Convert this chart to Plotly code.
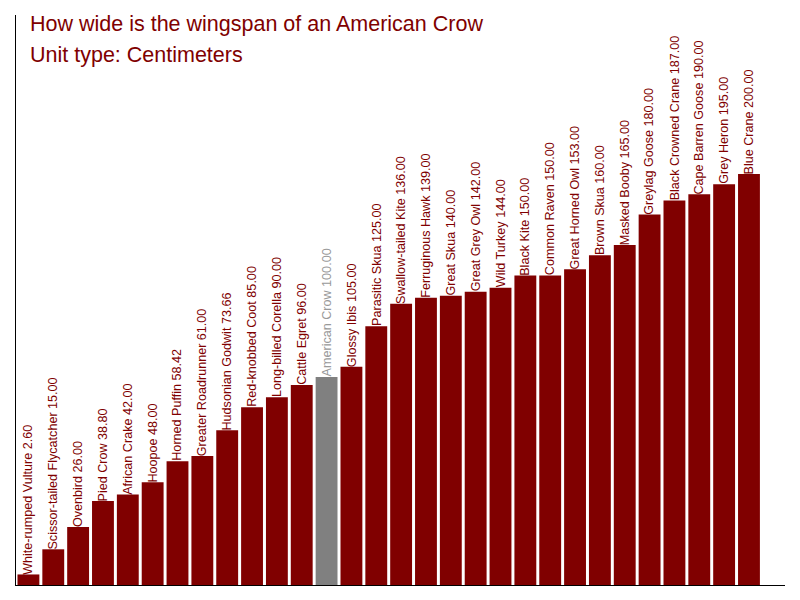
# Wingspan bar chart, American Crow highlighted

import plotly.graph_objects as go

# Data
birds = [
    "White-rumped Vulture", "Scissor-tailed Flycatcher", "Ovenbird", "Pied Crow",
    "African Crake", "Hoopoe", "Horned Puffin", "Greater Roadrunner",
    "Hudsonian Godwit", "Red-knobbed Coot", "Long-billed Corella", "Cattle Egret",
    "American Crow", "Glossy Ibis", "Parasitic Skua", "Swallow-tailed Kite",
    "Ferruginous Hawk", "Great Skua", "Great Grey Owl", "Wild Turkey",
    "Black Kite", "Common Raven", "Great Horned Owl", "Brown Skua",
    "Masked Booby", "Greylag Goose", "Black Crowned Crane", "Cape Barren Goose",
    "Grey Heron", "Blue Crane",
]
wingspans = [
    2.60, 15.00, 26.00, 38.80, 42.00, 48.00, 58.42, 61.00,
    73.66, 85.00, 90.00, 96.00, 100.00, 105.00, 125.00, 136.00,
    139.00, 140.00, 142.00, 144.00, 150.00, 150.00, 153.00, 160.00,
    165.00, 180.00, 187.00, 190.00, 195.00, 200.00,
]
highlight = "American Crow"

title_text = "How wide is the wingspan of an American Crow"
subtitle_text = "Unit type: Centimeters"

# the value axis in the original does not start at zero
y_min = -2.6
y_max = 278.4

# Colours
red = "#800000"
grey = "#808080"
grey_text = "#999999"

font_family = "Liberation Sans, Arial, sans-serif"

bar_colors = [grey if b == highlight else red for b in birds]

fig = go.Figure()
# bars run from the bottom of the axis up to each value
fig.add_trace(go.Bar(
    x=birds,
    y=[v - y_min for v in wingspans],
    base=y_min,
    marker=dict(color=bar_colors, line=dict(width=0)),
    hoverinfo="skip",
))

# value labels, rotated, sitting on top of each bar
annotations = []
for b, v in zip(birds, wingspans):
    annotations.append(dict(
        x=b, y=v, xref="x", yref="y",
        text=f"{b} {v:.2f}",
        textangle=-90,
        xanchor="center", yanchor="bottom",
        yshift=-2,
        showarrow=False,
        font=dict(family=font_family, size=12.6,
                  color=grey_text if b == highlight else red),
    ))

# title + subtitle
annotations.append(dict(text=title_text, x=0.016, y=0.9845, xref="paper", yref="paper",
                        xanchor="left", yanchor="middle", showarrow=False,
                        font=dict(size=21.5, color=red)))
annotations.append(dict(text=subtitle_text, x=0.016, y=0.9297, xref="paper", yref="paper",
                        xanchor="left", yanchor="middle", showarrow=False,
                        font=dict(size=21.5, color=red)))

fig.update_layout(
    width=800,
    height=600,
    margin=dict(l=8, r=23, t=7, b=23),
    paper_bgcolor="white",
    plot_bgcolor="white",
    showlegend=False,
    bargap=0.12,
    font=dict(family=font_family),
    xaxis=dict(
        showticklabels=False, ticks="", showgrid=False, zeroline=False,
        showline=True, linecolor="black", linewidth=1,
        range=[-0.5, 30.45],
    ),
    yaxis=dict(
        showticklabels=False, ticks="", showgrid=False, zeroline=False,
        showline=True, linecolor="black", linewidth=1,
        range=[y_min, y_max],
    ),
    annotations=annotations,
)

fig.write_html("out.html")
